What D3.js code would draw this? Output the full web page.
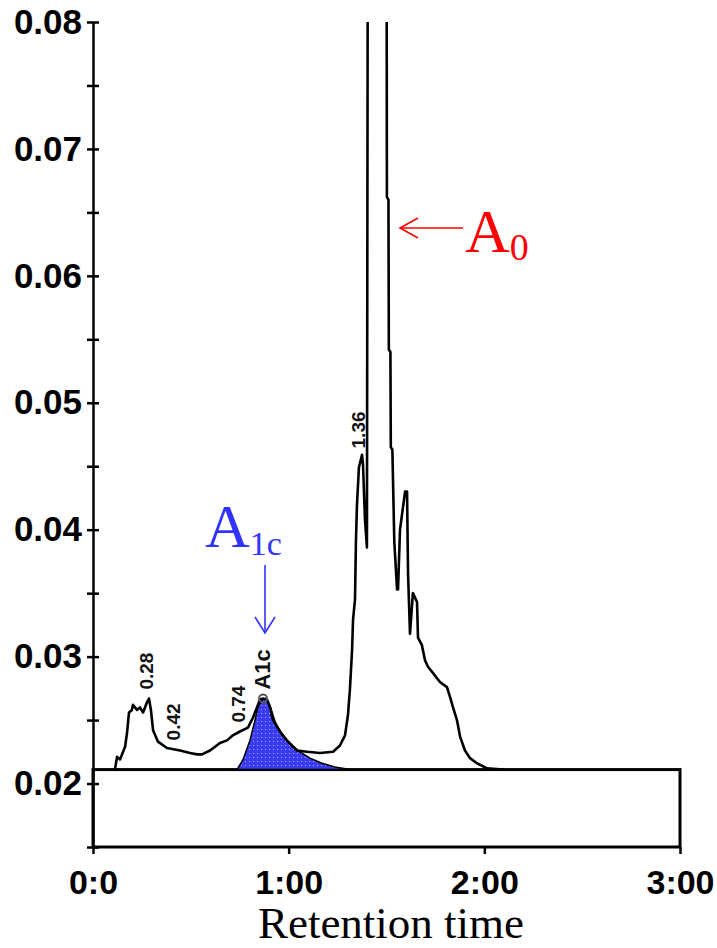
<!DOCTYPE html>
<html>
<head>
<meta charset="utf-8">
<script src="https://cdn.jsdelivr.net/npm/d3@7"></script>
<style>
  body { margin: 0; background: #fff; }
  .axis text { font-family: "Liberation Sans", Arial, sans-serif; font-weight: bold; font-size: 35px; fill: #000; }
  .axis line, .axis path { stroke: #000; stroke-width: 2.5; }
  .xaxis text { font-size: 34px; }
</style>
</head>
<body>
<div id="chart"></div>
<script>
const WIDTH = 717;
const HEIGHT = 948;

// chromatogram trace (retention time in minutes, absorbance)
const traceTime = [0.112, 0.123, 0.138, 0.164, 0.174, 0.184, 0.199, 0.204, 0.225, 0.240, 0.256, 0.276, 0.286, 0.296,
  0.307, 0.332, 0.378, 0.445, 0.496, 0.532, 0.557, 0.598, 0.649, 0.685, 0.715, 0.751, 0.792, 0.818, 0.838, 0.853,
  0.869, 0.890, 0.905, 0.920, 0.956, 0.991, 1.043, 1.094, 1.160, 1.227, 1.262, 1.288, 1.303, 1.313, 1.324, 1.329,
  1.339, 1.344, 1.349, 1.359, 1.375, 1.380, 1.390, 1.400, 1.405, 1.500, 1.502, 1.510, 1.512, 1.520, 1.522, 1.530,
  1.540, 1.554, 1.559, 1.569, 1.595, 1.605, 1.610, 1.620, 1.635, 1.656, 1.661, 1.681, 1.697, 1.712, 1.738, 1.773,
  1.809, 1.825, 1.840, 1.860, 1.876, 1.901, 1.927, 1.962, 2.014, 2.095];
const traceAbs = [0.0211, 0.0221, 0.0219, 0.0229, 0.0240, 0.0256, 0.0258, 0.0262, 0.0258, 0.0260, 0.0256, 0.0264, 0.0267, 0.0258,
  0.0242, 0.0233, 0.0228, 0.0226, 0.0224, 0.0223, 0.0223, 0.0226, 0.0232, 0.0234, 0.0238, 0.0241, 0.0244, 0.0252, 0.0260, 0.0266,
  0.0267, 0.0266, 0.0260, 0.0250, 0.0241, 0.0234, 0.0226, 0.0225, 0.0224, 0.0225, 0.0230, 0.0238, 0.0254, 0.0274, 0.0305, 0.0329,
  0.0345, 0.0392, 0.0419, 0.0449, 0.0459, 0.0451, 0.0408, 0.0386, 0.0950, 0.0950, 0.0662, 0.0660, 0.0542, 0.0540, 0.0465, 0.0463,
  0.0390, 0.0353, 0.0353, 0.0400, 0.0430, 0.0430, 0.0366, 0.0318, 0.0350, 0.0343, 0.0315, 0.0309, 0.0297, 0.0292, 0.0287, 0.0280,
  0.0276, 0.0268, 0.0260, 0.0250, 0.0237, 0.0226, 0.0220, 0.0216, 0.0212, 0.0211];

// integrated A1c peak (filled area)
const a1cTime = [0.736, 0.767, 0.802, 0.828, 0.843, 0.864, 0.884, 0.905, 0.930, 0.966, 1.007, 1.058, 1.109, 1.170, 1.237, 1.313];
const a1cAbs = [0.0211, 0.0219, 0.0234, 0.0250, 0.0260, 0.0266, 0.0267, 0.0261, 0.0249, 0.0238, 0.0231, 0.0225, 0.0220, 0.0216, 0.0213, 0.0211];

const baseline = 0.0211;

// peak annotations
const peakLabels = ["0.28", "0.42", "0.74", "A1c", "1.36"];
const peakLabelTime = [0.271, 0.409, 0.741, 0.864, 1.354];
const peakLabelAbs = [0.0274, 0.0234, 0.0248, 0.0274, 0.0464];

// axes
const yMajor = [0.02, 0.03, 0.04, 0.05, 0.06, 0.07, 0.08];
const yMinor = [0.015, 0.025, 0.035, 0.045, 0.055, 0.065, 0.075];
const xTicks = [0, 1, 2, 3];
const xTickLabels = ["0:0", "1:00", "2:00", "3:00"];

const svg = d3.select("#chart")
  .append("svg")
  .attr("width", WIDTH)
  .attr("height", HEIGHT)
  .style("background", "#fff");

const x = d3.scaleLinear().domain([0, 3]).range([93, 680]);
const y = d3.scaleLinear().domain([0.015, 0.08]).range([847, 22]);

const defs = svg.append("defs");
defs.append("clipPath").attr("id", "plot-clip")
  .append("rect")
    .attr("x", x(0))
    .attr("y", y(0.08))
    .attr("width", x(3) - x(0))
    .attr("height", y(0.015) - y(0.08));

// dotted blue fill like the original print
const pat = defs.append("pattern")
  .attr("id", "dots")
  .attr("width", 4)
  .attr("height", 4)
  .attr("patternUnits", "userSpaceOnUse");
pat.append("rect").attr("width", 4).attr("height", 4).attr("fill", "#3b3bf5");
pat.append("rect").attr("x", 1).attr("y", 1).attr("width", 1).attr("height", 1).attr("fill", "#a9a9ff");

// box under the baseline
svg.append("rect")
  .attr("x", x(0))
  .attr("y", y(baseline))
  .attr("width", x(3) - x(0))
  .attr("height", y(0.015) - y(baseline))
  .attr("fill", "none")
  .attr("stroke", "#000")
  .attr("stroke-width", 3);

const g = svg.append("g").attr("clip-path", "url(#plot-clip)");

const a1cData = a1cTime.map((t, i) => [t, a1cAbs[i]]);
g.append("path")
  .datum(a1cData)
  .attr("fill", "url(#dots)")
  .attr("stroke", "#000")
  .attr("stroke-width", 1.5)
  .attr("d", d3.area()
    .x(d => x(d[0]))
    .y0(y(baseline))
    .y1(d => y(d[1])));

const traceData = traceTime.map((t, i) => [t, traceAbs[i]]);
g.append("path")
  .datum(traceData)
  .attr("fill", "none")
  .attr("stroke", "#000")
  .attr("stroke-width", 2.6)
  .attr("stroke-linejoin", "round")
  .attr("d", d3.line()
    .x(d => x(d[0]))
    .y(d => y(d[1])));

// marker on the A1c apex
svg.append("circle")
  .attr("cx", x(0.869))
  .attr("cy", y(0.0267))
  .attr("r", 4)
  .attr("fill", "none")
  .attr("stroke", "#555")
  .attr("stroke-width", 2);

// y axis with ticks crossing the line
const yAxis = svg.append("g")
  .attr("class", "axis")
  .attr("transform", `translate(${x(0)},0)`)
  .call(d3.axisLeft(y)
    .tickValues(yMajor.concat(yMinor))
    .tickSize(6)
    .tickSizeOuter(0)
    .tickPadding(5)
    .tickFormat(d => yMajor.some(m => Math.abs(m - d) < 1e-9) ? d3.format(".2f")(d) : ""));
yAxis.selectAll(".tick line").attr("x1", 6);

// x axis ticks along the box bottom
const xAxis = svg.append("g")
  .attr("class", "axis xaxis")
  .attr("transform", `translate(0,${y(0.015)})`)
  .call(d3.axisBottom(x)
    .tickValues(xTicks)
    .tickSize(7)
    .tickSizeOuter(0)
    .tickFormat((d, i) => xTickLabels[i]));
xAxis.select(".domain").remove();
xAxis.selectAll(".tick text").attr("y", 23);

// rotated peak labels
peakLabels.forEach((lab, i) => {
  const big = lab === "A1c";
  svg.append("text")
    .attr("transform", `translate(${x(peakLabelTime[i]) + (big ? 8 : 7)},${y(peakLabelAbs[i])}) rotate(-90)`)
    .attr("font-family", "Liberation Sans, Arial, sans-serif")
    .attr("font-weight", "bold")
    .attr("font-size", big ? 22 : 19)
    .attr("fill", "#111")
    .text(lab);
});

// A0 annotation (red)
const a0 = svg.append("g");
a0.append("line")
  .attr("x1", 400).attr("y1", 228).attr("x2", 463).attr("y2", 228)
  .attr("stroke", "#f00").attr("stroke-width", 1.6);
a0.append("path")
  .attr("d", "M418,218 L400,228 L418,238")
  .attr("fill", "none").attr("stroke", "#f00").attr("stroke-width", 1.6);
const a0Text = a0.append("text")
  .attr("x", 465).attr("y", 252)
  .attr("font-family", "Liberation Serif, Times New Roman, serif")
  .attr("font-size", 62)
  .attr("fill", "#f00");
a0Text.append("tspan").text("A");
a0Text.append("tspan").attr("font-size", 38).attr("dy", 8).text("0");

// A1c annotation (blue)
const a1 = svg.append("g");
a1.append("line")
  .attr("x1", 265).attr("y1", 565).attr("x2", 265).attr("y2", 633)
  .attr("stroke", "#3333ff").attr("stroke-width", 1.6);
a1.append("path")
  .attr("d", "M255,617 L265,633 L275,617")
  .attr("fill", "none").attr("stroke", "#3333ff").attr("stroke-width", 1.6);
const a1Text = a1.append("text")
  .attr("x", 205).attr("y", 547)
  .attr("font-family", "Liberation Serif, Times New Roman, serif")
  .attr("font-size", 62)
  .attr("fill", "#3333ff");
a1Text.append("tspan").text("A");
a1Text.append("tspan").attr("font-size", 34).attr("dy", 8).text("1c");

// axis title
svg.append("text")
  .attr("x", 391)
  .attr("y", 938)
  .attr("text-anchor", "middle")
  .attr("font-family", "Liberation Serif, Times New Roman, serif")
  .attr("font-size", 45)
  .attr("fill", "#000")
  .text("Retention time");
</script>
</body>
</html>
